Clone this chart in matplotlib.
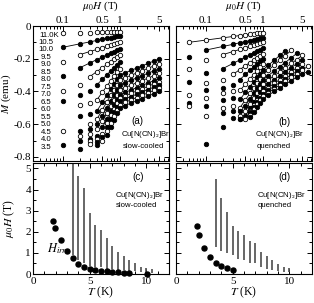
import numpy as np
import matplotlib
matplotlib.use('Agg')
import matplotlib.pyplot as plt
from matplotlib import font_manager
from matplotlib.ticker import FixedLocator, LogLocator, MultipleLocator, FuncFormatter, NullFormatter

plt.rcParams['font.family'] = 'Liberation Serif'
plt.rcParams['mathtext.fontset'] = 'stix'
plt.rcParams['axes.unicode_minus'] = False
plt.rcParams['font.size'] = 8

names = {f.name for f in font_manager.fontManager.ttflist}
sans = 'Liberation Sans Narrow' if 'Liberation Sans Narrow' in names else 'Liberation Sans'
narrow = sans.endswith('Narrow')
sans_size = 6.5 if narrow else 5.6

nan = np.nan

# temperatures of the M(H) curves (K)
temps = [11.0, 10.5, 10.0, 9.5, 9.0, 8.5, 8.0, 7.5, 7.0, 6.5, 6.0, 5.5, 5.0, 4.5, 4.0, 3.5]
h_low = [0.05, 0.1, 0.2, 0.3, 0.4, 0.5, 0.6, 0.7, 0.8, 0.9, 1.0]
h_high = [1.25, 1.6, 2.0, 2.5, 3.2, 4.0, 5.0, 6.3]

# (a) slow-cooled, M (emu)
m_slow_low = [
    [nan, -0.045, -0.042, -0.040, -0.039, -0.038, -0.037, -0.037, -0.036, -0.035, -0.035],
    [nan, -0.130, -0.109, -0.097, -0.088, -0.081, -0.076, -0.071, -0.067, -0.063, -0.060],
    [nan, -0.220, -0.175, -0.156, -0.143, -0.132, -0.124, -0.117, -0.110, -0.105, -0.100],
    [nan, -0.305, -0.255, -0.226, -0.205, -0.189, -0.176, -0.165, -0.156, -0.148, -0.140],
    [nan, -0.400, -0.360, -0.309, -0.278, -0.254, -0.235, -0.218, -0.204, -0.191, -0.180],
    [nan, -0.460, -0.420, -0.400, -0.359, -0.325, -0.298, -0.274, -0.254, -0.236, -0.220],
    [nan, nan, -0.480, -0.470, -0.451, -0.404, -0.367, -0.334, -0.307, -0.282, -0.260],
    [nan, nan, -0.550, -0.540, -0.519, -0.466, -0.422, -0.385, -0.353, -0.325, -0.300],
    [nan, -0.640, nan, -0.600, -0.569, -0.511, -0.463, -0.423, -0.388, -0.358, -0.330],
    [nan, nan, -0.640, -0.630, -0.600, -0.547, -0.498, -0.456, -0.420, -0.389, -0.360],
    [nan, nan, -0.670, -0.660, -0.630, -0.583, -0.532, -0.489, -0.452, -0.419, -0.390],
    [nan, nan, nan, -0.690, -0.670, -0.619, -0.567, -0.522, -0.484, -0.450, -0.420],
    [nan, nan, nan, -0.700, -0.690, -0.660, -0.591, -0.545, -0.506, -0.471, -0.440],
    [nan, nan, -0.700, nan, -0.710, -0.680, -0.615, -0.569, -0.528, -0.492, -0.460],
    [nan, nan, nan, -0.720, nan, -0.700, -0.640, -0.592, -0.550, -0.513, -0.480],
    [nan, -0.730, -0.750, nan, -0.730, nan, -0.664, -0.615, -0.572, -0.534, -0.500],
]
m_slow_high = [None] * 7 + [
    [-0.286, -0.271, -0.257, -0.243, -0.228, -0.214, -0.200, nan],
    [-0.316, -0.301, -0.287, -0.273, -0.258, -0.244, -0.230, nan],
    [-0.346, -0.331, -0.317, -0.303, -0.288, -0.274, -0.260, nan],
    [-0.376, -0.361, -0.347, -0.333, -0.318, -0.304, -0.290, nan],
    [-0.406, -0.391, -0.377, -0.363, -0.348, -0.334, -0.320, nan],
    [-0.426, -0.411, -0.397, -0.383, -0.368, -0.354, -0.340, nan],
    [-0.446, -0.431, -0.417, -0.403, -0.388, -0.374, -0.360, nan],
    [-0.466, -0.451, -0.437, -0.423, -0.408, -0.394, -0.380, nan],
    [-0.486, -0.471, -0.457, -0.443, -0.428, -0.414, -0.400, nan],
]
fit_slow = [None, 1, 2, 2, 3, 4, 4, 4, 4, 5, 5, 5, 6, 6, 6, 6]

# (b) quenched, M (emu)
m_quen_low = [
    [-0.100, -0.086, -0.072, -0.064, -0.058, -0.054, -0.050, -0.047, -0.044, -0.042, -0.040],
    [-0.190, -0.147, -0.125, -0.112, -0.102, -0.095, -0.089, -0.084, -0.080, -0.076, -0.073],
    [-0.260, -0.210, -0.175, -0.156, -0.143, -0.132, -0.124, -0.117, -0.110, -0.105, -0.100],
    [-0.340, -0.285, -0.260, -0.229, -0.207, -0.190, -0.176, -0.164, -0.154, -0.145, -0.137],
    [-0.420, -0.350, -0.330, -0.296, -0.266, -0.242, -0.223, -0.207, -0.193, -0.181, -0.170],
    [-0.470, -0.390, -0.380, -0.360, -0.327, -0.296, -0.271, -0.250, -0.231, -0.215, -0.200],
    [-0.490, -0.440, -0.410, -0.400, -0.394, -0.355, -0.324, -0.297, -0.274, -0.253, -0.235],
    [nan, -0.490, -0.450, -0.440, -0.449, -0.405, -0.370, -0.340, -0.314, -0.291, -0.270],
    [nan, -0.550, -0.500, -0.490, -0.499, -0.451, -0.411, -0.378, -0.349, -0.323, -0.300],
    [nan, nan, -0.530, -0.520, -0.520, -0.487, -0.445, -0.411, -0.380, -0.354, -0.330],
    [nan, nan, nan, nan, -0.550, -0.518, -0.475, -0.439, -0.407, -0.380, -0.355],
    [nan, nan, nan, -0.560, nan, -0.549, -0.504, -0.467, -0.434, -0.406, -0.380],
    [nan, nan, nan, nan, -0.570, -0.566, -0.522, -0.485, -0.453, -0.425, -0.400],
    [nan, nan, nan, nan, nan, nan, -0.526, -0.493, -0.464, -0.438, -0.415],
    [nan, nan, nan, nan, nan, nan, -0.541, -0.508, -0.479, -0.453, -0.430],
    [nan, -0.720, -0.620, nan, -0.570, nan, -0.556, -0.523, -0.494, -0.468, -0.445],
]
m_quen_high = [None] * 7 + [
    [-0.241, -0.209, -0.180, -0.151, nan, nan, nan, nan],
    [-0.271, -0.239, -0.210, -0.181, -0.149, nan, nan, nan],
    [-0.304, -0.275, -0.249, -0.223, -0.194, -0.167, nan, nan],
    [-0.331, -0.304, -0.280, -0.256, -0.229, -0.205, -0.180, nan],
    [-0.356, -0.329, -0.305, -0.281, -0.254, -0.230, -0.205, nan],
    [-0.377, -0.351, -0.328, -0.304, -0.279, -0.256, -0.232, nan],
    [-0.393, -0.368, -0.346, -0.323, -0.299, -0.277, -0.254, nan],
    [-0.408, -0.383, -0.361, -0.338, -0.314, -0.292, -0.269, -0.246],
    [-0.424, -0.400, -0.379, -0.357, -0.334, -0.313, -0.291, -0.280],
]
fit_quen = [0, 1, 2, 2, 3, 4, 4, 4, 4, 5, 5, 5, 5, 6, 6, 6]

# (c) slow-cooled: H_irr and field ranges (T)
t_irr_slow = [1.77, 1.98, 2.46, 3.02, 3.5, 4.0, 4.5, 5.0, 5.5, 6.0, 6.5, 7.0, 7.5, 8.0, 8.5, 10.05]
h_irr_slow = [2.53, 2.2, 1.6, 1.08, 0.76, 0.47, 0.35, 0.26, 0.2, 0.15, 0.12, 0.09, 0.08, 0.06, 0.05, 0.0]
t_bar_slow = [3.5, 4.0, 4.5, 5.0, 5.5, 6.0, 6.5, 7.0, 7.5, 8.0, 8.5, 9.0, 9.5, 10.0, 10.5]
h_bar_lo_slow = [0.88, 0.65, 0.5, 0.38, 0.32, 0.32, 0.23, 0.23, 0.17, 0.17, 0.12, 0.12, 0.08, 0.05, 0.05]
h_bar_hi_slow = [7.0, 4.65, 4.08, 2.9, 2.33, 2.1, 1.72, 1.34, 1.03, 0.84, 0.65, 0.5, 0.32, 0.3, 0.23]

# (d) quenched
t_irr_quen = [1.82, 2.03, 2.5, 3.0, 3.5, 4.0, 4.5, 5.03]
h_irr_quen = [2.25, 1.83, 1.22, 0.81, 0.5, 0.4, 0.3, 0.2]
t_bar_quen = [3.5, 4.0, 4.5, 5.0, 5.5, 6.0, 6.5, 7.0, 7.5, 8.0, 8.5, 9.0, 9.5, 10.0]
h_bar_lo_quen = [1.26, 1.11, 0.99, 0.88, 0.73, 0.65, 0.53, 0.5, 0.32, 0.23, 0.2, 0.12, 0.08, 0.08]
h_bar_hi_quen = [4.5, 3.62, 2.94, 2.25, 2.02, 1.83, 1.57, 1.49, 1.03, 0.84, 0.65, 0.47, 0.32, 0.3]

compound = r'Cu[N(CN)$_\mathsf{2}$]Br'


def style(ax):
    ax.tick_params(which='both', direction='in', top=True, right=True, width=0.7)
    ax.tick_params(which='major', length=3.5)
    ax.tick_params(which='minor', length=2)
    ax.tick_params(axis='y', which='major', pad=1.5)
    for s in ax.spines.values():
        s.set_linewidth(0.8)


def draw_m(ax, m_low, m_high, fit_from):
    for i, t in enumerate(temps):
        mfc = 'k' if i % 2 == 1 else 'white'
        lo = np.array(m_low[i], dtype=float)
        k = fit_from[i]
        if k is not None:
            ax.plot(h_low[k:], lo[k:], '-', color='k', lw=0.6, zorder=2)
        if m_high[i] is not None:
            hi = np.array(m_high[i], dtype=float)
            ax.plot([h_low[-1]] + h_high, np.concatenate([[lo[-1]], hi]), '-',
                    color='k', lw=0.6, zorder=2)
            ax.plot(h_high, hi, 'o', ms=3.2, mfc=mfc, mec='k', mew=0.6, zorder=3)
        ax.plot(h_low, lo, 'o', ms=3.2, mfc=mfc, mec='k', mew=0.6, zorder=3)
    ax.set_xscale('log')
    ax.set_xlim(0.03, 7.4)
    ax.set_ylim(-0.825, 0)
    ax.xaxis.set_major_locator(FixedLocator([0.1, 0.5, 1, 5]))
    ax.xaxis.set_minor_locator(LogLocator(subs=np.arange(2, 10)))
    ax.xaxis.set_major_formatter(FuncFormatter(lambda v, p: '%g' % v))
    ax.xaxis.set_minor_formatter(NullFormatter())
    ax.yaxis.set_major_locator(MultipleLocator(0.2))
    ax.yaxis.set_minor_locator(MultipleLocator(0.1))
    ax.yaxis.set_major_formatter(FuncFormatter(lambda v, p: '0' if abs(v) < 1e-9 else '%.1f' % v))
    style(ax)
    ax.tick_params(axis='x', which='major', labeltop=True, labelbottom=False, pad=0.5)
    pos = ax.get_position()
    fig.text(pos.x0 + pos.width / 2, 1 - 6.5 / 303, r'$\mu_0H$ (T)', fontsize=8,
             ha='center', va='center')


def draw_h(ax, t_irr, h_irr, t_bar, lo, hi):
    ax.vlines(t_bar, lo, hi, colors='0.3', lw=1.2)
    ax.plot(t_irr, h_irr, 'o', color='k', ms=3.6, clip_on=False, zorder=3)
    ax.set_xlim(0, 12)
    ax.set_ylim(0, 5.25)
    ax.xaxis.set_major_locator(FixedLocator([0, 5, 10]))
    ax.xaxis.set_minor_locator(MultipleLocator(1))
    ax.yaxis.set_major_locator(MultipleLocator(1))
    ax.yaxis.set_minor_locator(MultipleLocator(0.5))
    style(ax)
    ax.tick_params(axis='x', which='major', pad=2)
    ax.set_xlabel(r'$T$ (K)', fontsize=8.5, labelpad=-1)


fig = plt.figure(figsize=(3.14, 3.03), dpi=100)
ax_a = fig.add_axes([0.105, 0.4686, 0.433, 0.4455])
ax_b = fig.add_axes([0.5605, 0.4686, 0.433, 0.4455])
ax_c = fig.add_axes([0.105, 0.0957, 0.433, 0.366])
ax_d = fig.add_axes([0.5605, 0.0957, 0.433, 0.366])

draw_m(ax_a, m_slow_low, m_slow_high, fit_slow)
draw_m(ax_b, m_quen_low, m_quen_high, fit_quen)
ax_a.set_ylabel(r'$M$ (emu)', fontsize=8)
ax_a.yaxis.set_label_coords(-0.145, 0.5)
ax_b.tick_params(labelleft=False)

draw_h(ax_c, t_irr_slow, h_irr_slow, t_bar_slow, h_bar_lo_slow, h_bar_hi_slow)
draw_h(ax_d, t_irr_quen, h_irr_quen, t_bar_quen, h_bar_lo_quen, h_bar_hi_quen)
ax_c.set_ylabel(r'$\mu_0H$ (T)', fontsize=8.5)
ax_c.yaxis.set_label_coords(-0.12, 0.5)
ax_d.tick_params(labelleft=False)
ax_c.text(0.1, 0.2, r'$H_{irr}$', transform=ax_c.transAxes, fontsize=9)

# temperature labels in (a)
for i, t in enumerate(temps):
    y = (161 - 35 - 7.47 * i) / 135
    if i == 0:
        ax_a.text(0.045, y, '%.1fK' % t, transform=ax_a.transAxes, ha='left', va='center',
                  family=sans, fontsize=sans_size)
    else:
        ax_a.text(0.095, y, '%.1f' % t, transform=ax_a.transAxes, ha='center', va='center',
                  family=sans, fontsize=sans_size)

kw = dict(family=sans, fontsize=sans_size, ha='left', va='center')
lkw = dict(family=sans, fontsize=sans_size + 1.5, ha='center', va='center')
ax_a.text(0.77, 0.30, '(a)', transform=ax_a.transAxes, **lkw)
ax_a.text(0.65, 0.20, compound, transform=ax_a.transAxes, **kw)
ax_a.text(0.66, 0.105, 'slow-cooled', transform=ax_a.transAxes, **kw)
ax_b.text(0.80, 0.29, '(b)', transform=ax_b.transAxes, **lkw)
ax_b.text(0.58, 0.20, compound, transform=ax_b.transAxes, **kw)
ax_b.text(0.59, 0.105, 'quenched', transform=ax_b.transAxes, **kw)
ax_c.text(0.77, 0.875, '(c)', transform=ax_c.transAxes, **lkw)
ax_c.text(0.6, 0.71, compound, transform=ax_c.transAxes, **kw)
ax_c.text(0.61, 0.62, 'slow-cooled', transform=ax_c.transAxes, **kw)
ax_d.text(0.80, 0.875, '(d)', transform=ax_d.transAxes, **lkw)
ax_d.text(0.595, 0.71, compound, transform=ax_d.transAxes, **kw)
ax_d.text(0.6, 0.62, 'quenched', transform=ax_d.transAxes, **kw)

fig.savefig('out.png', dpi=100)
